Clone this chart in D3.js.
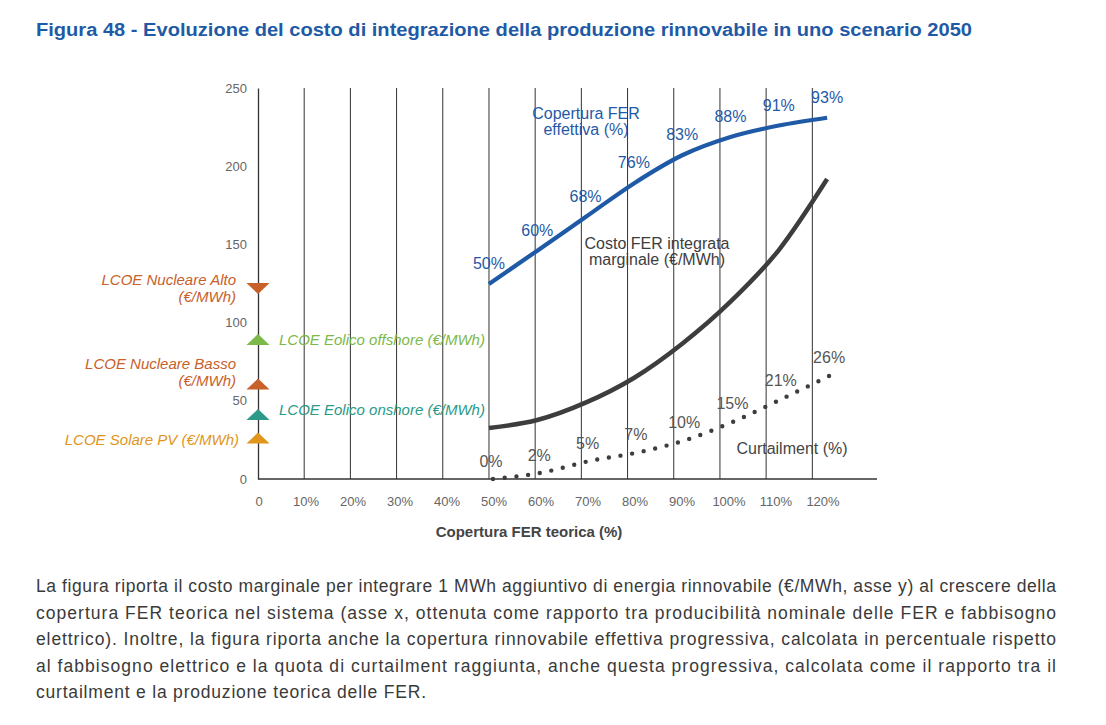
<!DOCTYPE html>
<html>
<head>
<meta charset="utf-8">
<script src="https://cdn.jsdelivr.net/npm/d3@7"></script>
<style>
  body { margin: 0; background: #fff; }
  svg { display: block; font-family: "Liberation Sans", Arial, sans-serif; }
</style>
</head>
<body>
<div id="chart"></div>
<script>
// Evoluzione del costo di integrazione FER - scenario 2050
const xTicks = [0, 10, 20, 30, 40, 50, 60, 70, 80, 90, 100, 110, 120];
const yTicks = [0, 50, 100, 150, 200, 250];

// copertura FER teorica (%) of each point of the three series
const fer = [50, 60, 70, 80, 90, 100, 110, 120];
// values read in y-axis units
const copertura = [124.7, 146, 167.5, 189, 207, 218.7, 226, 231];
const coperturaLabels = ['50%', '60%', '68%', '76%', '83%', '88%', '91%', '93%'];
const costo = [32.6, 37.7, 48.8, 64.6, 86.5, 113.4, 146.4, 191.8];
const curtailment = [0, 4, 11.5, 17, 25, 37, 51.5, 66.5];
const curtailmentLabels = ['0%', '2%', '5%', '7%', '10%', '15%', '21%', '26%'];

// LCOE markers on the y axis
const lcoeNames = ['LCOE Nucleare Alto', 'LCOE Eolico offshore (€/MWh)', 'LCOE Nucleare Basso', 'LCOE Eolico onshore (€/MWh)', 'LCOE Solare PV (€/MWh)'];
const lcoeValues = [123, 88, 59.5, 40, 25];
const lcoeColors = ['#c8602a', '#7cb84a', '#c8602a', '#2b9a88', '#e0961c'];

const paragraph = [
  'La figura riporta il costo marginale per integrare 1 MWh aggiuntivo di energia rinnovabile (€/MWh, asse y) al crescere della',
  'copertura FER teorica nel sistema (asse x, ottenuta come rapporto tra producibilità nominale delle FER e fabbisogno',
  'elettrico). Inoltre, la figura riporta anche la copertura rinnovabile effettiva progressiva, calcolata in percentuale rispetto',
  'al fabbisogno elettrico e la quota di curtailment raggiunta, anche questa progressiva, calcolata come il rapporto tra il',
  'curtailment e la produzione teorica delle FER.'
];
const paragraphWidths = [1020, 1020, 1020, 1020, 390];

const W = 1106, H = 725;
const blue = '#1f5aa6', dark = '#3d3d3d';

const svg = d3.select('#chart').append('svg').attr('width', W).attr('height', H);

svg.append('text').attr('x', 36).attr('y', 36)
  .attr('font-weight', 700).attr('font-size', 17.5)
  .attr('fill', blue).attr('textLength', 936).attr('lengthAdjust', 'spacingAndGlyphs')
  .text('Figura 48 - Evoluzione del costo di integrazione della produzione rinnovabile in uno scenario 2050');

const x = d3.scaleLinear().domain([0, 134]).range([258, 877]);
const y = d3.scaleLinear().domain([0, 250]).range([479, 88]);
// the series are spread slightly wider than the grid
const xs = d3.scaleLinear().domain([50, 120]).range([x(50), x(123.2)]);
const xLab = d3.scaleLinear().domain([0, 120]).range([259, 823]);

// vertical grid
svg.append('g').selectAll('line').data(xTicks.slice(1)).join('line')
  .attr('x1', d => x(d)).attr('x2', d => x(d))
  .attr('y1', y(250)).attr('y2', y(0))
  .attr('stroke', '#333').attr('stroke-width', 1);

// y axis
const yAxis = svg.append('g').attr('transform', `translate(${x(0)},0)`)
  .call(d3.axisLeft(y).tickValues(yTicks).tickSize(0).tickPadding(11));
yAxis.select('.domain').attr('stroke', '#333').attr('stroke-width', 1.3);
yAxis.selectAll('text').attr('font-size', 13).attr('fill', '#666').attr('font-family', 'Liberation Sans, sans-serif');

// x axis line
svg.append('line').attr('x1', x(0)).attr('x2', x(134)).attr('y1', y(0)).attr('y2', y(0))
  .attr('stroke', '#333').attr('stroke-width', 1.3);
svg.append('g').selectAll('text').data(xTicks).join('text')
  .attr('x', d => xLab(d)).attr('y', 506)
  .attr('text-anchor', 'middle').attr('font-size', 13).attr('fill', '#666')
  .text(d => d === 0 ? '0' : d + '%');
svg.append('text').attr('x', 529).attr('y', 537).attr('text-anchor', 'middle')
  .attr('font-size', 15).attr('font-weight', 700).attr('fill', '#444')
  .text('Copertura FER teorica (%)');

const line = vals => d3.line().x((d, i) => xs(fer[i])).y(d => y(d)).curve(d3.curveMonotoneX)(vals);

svg.append('path').attr('d', line(costo)).attr('fill', 'none')
  .attr('stroke', dark).attr('stroke-width', 4.5);
svg.append('path').attr('d', line(copertura)).attr('fill', 'none')
  .attr('stroke', blue).attr('stroke-width', 4.2);
svg.append('path').attr('d', line(curtailment)).attr('fill', 'none')
  .attr('stroke', dark).attr('stroke-width', 4.4).attr('stroke-linecap', 'round')
  .attr('stroke-dasharray', '0 11.8').attr('transform', 'translate(4,0)');

// point labels
svg.append('g').selectAll('text').data(copertura).join('text')
  .attr('x', (d, i) => xs(fer[i])).attr('y', d => y(d) - 15)
  .attr('text-anchor', 'middle').attr('font-size', 16).attr('fill', blue)
  .text((d, i) => coperturaLabels[i]);
svg.append('g').selectAll('text').data(curtailment).join('text')
  .attr('x', (d, i) => xs(fer[i]) + 2).attr('y', d => y(d) - 12)
  .attr('text-anchor', 'middle').attr('font-size', 16).attr('fill', '#555')
  .text((d, i) => curtailmentLabels[i]);

// series names
const seriesText = (lines, cx, by, color) => {
  const t = svg.append('text').attr('text-anchor', 'middle').attr('font-size', 16).attr('fill', color);
  lines.forEach((s, i) => t.append('tspan').attr('x', cx).attr('y', by + i * 16).text(s));
};
seriesText(['Copertura FER', 'effettiva (%)'], 586, 119, blue);
seriesText(['Costo FER integrata', 'marginale (€/MWh)'], 657, 249, dark);
seriesText(['Curtailment (%)'], 792, 454, '#444');

// LCOE markers
const tri = d3.symbol().type(d3.symbolTriangle).size(110);
lcoeValues.forEach((v, i) => {
  svg.append('path').attr('d', tri())
    .attr('transform', `translate(${x(0)},${y(v)}) scale(1.45,0.8) rotate(${i === 0 ? 180 : 0})`)
    .attr('fill', lcoeColors[i]);
});
const lcoeText = (lines, anchor, tx, by, color) => {
  const t = svg.append('text').attr('text-anchor', anchor).attr('font-size', 15)
    .attr('font-style', 'italic').attr('fill', color);
  lines.forEach((s, i) => t.append('tspan').attr('x', tx).attr('y', by + i * 17).text(s));
};
lcoeText([lcoeNames[0], '(€/MWh)'], 'end', 236, y(lcoeValues[0]) - 2, lcoeColors[0]);
lcoeText([lcoeNames[1]], 'start', 279, y(lcoeValues[1]) + 4, lcoeColors[1]);
lcoeText([lcoeNames[2], '(€/MWh)'], 'end', 236, y(lcoeValues[2]) - 17, lcoeColors[2]);
lcoeText([lcoeNames[3]], 'start', 279, y(lcoeValues[3]) - 1, lcoeColors[3]);
lcoeText([lcoeNames[4]], 'end', 239, y(lcoeValues[4]) + 5, lcoeColors[4]);

// description paragraph, justified
svg.append('g').selectAll('text').data(paragraph).join('text')
  .attr('x', 36).attr('y', (d, i) => 592 + i * 26.6)
  .attr('font-size', 17.5).attr('fill', '#3a3a3a')
  .attr('textLength', (d, i) => paragraphWidths[i]).attr('lengthAdjust', 'spacing')
  .text(d => d);
</script>
</body>
</html>
